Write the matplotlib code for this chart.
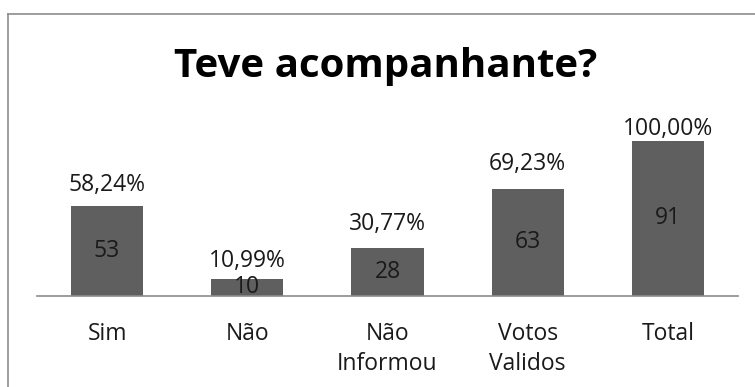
import matplotlib

matplotlib.use("Agg")
import matplotlib.pyplot as plt
from matplotlib.lines import Line2D

categories = ["Sim", "Não", "Não\nInformou", "Votos\nValidos", "Total"]
counts = [53, 10, 28, 63, 91]
percent_labels = ["58,24%", "10,99%", "30,77%", "69,23%", "100,00%"]
# gap (points) between bar top and its percent label
label_pads = [6, 4, 9, 9, 0]

W, H, DPI = 755, 387, 100
BAR = "#5f5f5f"
TXT = "#1a1a1a"
plt.rcParams["font.family"] = ["Open Sans", "DejaVu Sans"]

fig = plt.figure(figsize=(W / DPI, H / DPI), dpi=DPI)
fig.patch.set_facecolor("white")

# chart frame (only top and left edges fall inside the image)
fig.add_artist(Line2D([8 / W, 1], [1 - 14 / H] * 2, color="#8c8c8c", lw=1.2))
fig.add_artist(Line2D([8 / W] * 2, [0, 1 - 14 / H], color="#8c8c8c", lw=1.2))

base_px, top_px = 296, 60
ax = fig.add_axes([37 / W, 1 - base_px / H, (738 - 37) / W, (base_px - top_px) / H])
scale = 155 / 91  # px per unit
ax.set_xlim(-0.5, len(categories) - 0.5)
ax.set_ylim(0, (base_px - top_px) / scale)

x = range(len(categories))
bars = ax.bar(x, counts, width=0.515, color=BAR, zorder=2)

for b, n in zip(bars, counts):
    ax.text(b.get_x() + b.get_width() / 2, n / 2, str(n), ha="center", va="center",
            fontsize=16.5, color=TXT, zorder=3)
for b, n, lab, pad in zip(bars, counts, percent_labels, label_pads):
    ax.annotate(lab, (b.get_x() + b.get_width() / 2, n), xytext=(0, pad),
                textcoords="offset points", ha="center", va="bottom",
                fontsize=16.5, color=TXT, zorder=3)

for s in ["top", "right", "left"]:
    ax.spines[s].set_visible(False)
ax.spines["bottom"].set_color("#8c8c8c")
ax.spines["bottom"].set_linewidth(1.2)
ax.set_yticks([])
ax.set_xticks(list(x))
ax.set_xticklabels(categories, fontsize=16.5, color=TXT, linespacing=1.3, va="top")
ax.tick_params(axis="x", length=0, pad=19)
ax.patch.set_alpha(0)

fig.text(386 / W, 1 - 66 / H, "Teve acompanhante?", ha="center", va="center",
         fontsize=29, fontweight="bold", color="black")

fig.savefig("out.png", dpi=DPI)
